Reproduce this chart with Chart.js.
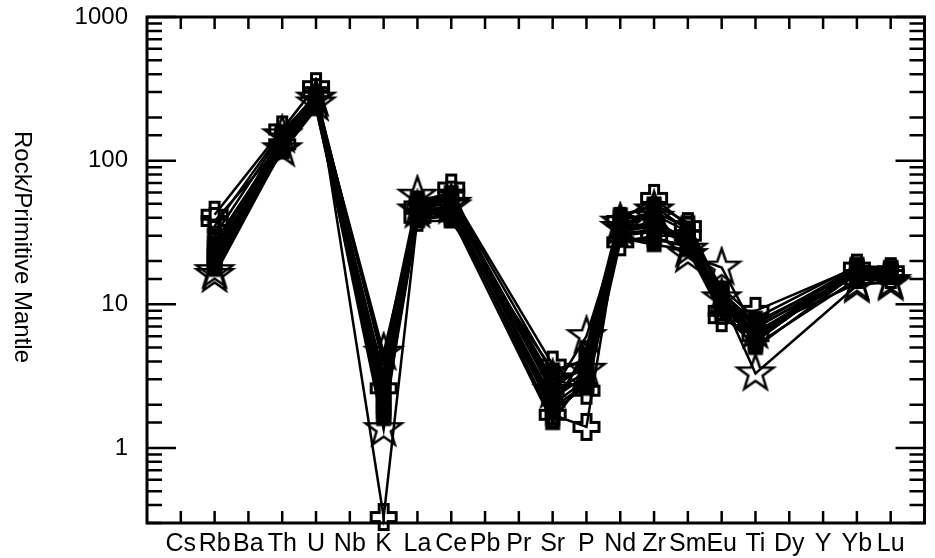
<!DOCTYPE html>
<html>
<head>
<meta charset="utf-8">
<script src="https://cdn.jsdelivr.net/npm/chart.js@4"></script>
<style>
  html, body { margin: 0; padding: 0; background: #fff; }
</style>
</head>
<body>
<canvas id="spider" width="935" height="558"></canvas>
<script>
// element order along the x axis
const elements = ["Cs", "Rb", "Ba", "Th", "U", "Nb", "K", "La", "Ce", "Pb", "Pr", "Sr", "P", "Nd", "Zr", "Sm", "Eu", "Ti", "Dy", "Y", "Yb", "Lu"];
// elements that were actually analysed (values below follow this order)
const analysed = ["Rb", "Th", "U", "K", "La", "Ce", "Sr", "P", "Nd", "Zr", "Sm", "Eu", "Ti", "Yb", "Lu"];

const starA   = [16, 120, 250, 1.35, 57, 50, 2.5, 6.0, 34, 45, 22, 18, 6.5, 14, 14];
const starB   = [17, 150, 270, 4.6, 45, 48, 3.0, 3.5, 37, 40, 24, 11, 3.3, 13.5, 14.5];
const crossA  = [42, 165, 330, 0.33, 40, 65, 1.7, 1.4, 38, 55, 35, 9, 9, 18, 17];
const crossB  = [38, 130, 300, 2.6, 48, 58, 3.8, 2.5, 27, 30, 30, 8, 6, 16, 16];
const squareA = [35, 160, 280, 4.2, 55, 55, 2.0, 4.5, 40, 50, 37, 12, 7.5, 17, 17];
const squareB = [25, 140, 260, 2.8, 42, 45, 1.6, 3.0, 35, 35, 30, 10, 5.5, 18, 18];
const squareC = [22, 115, 230, 2.1, 38, 38, 3.5, 4.0, 28, 28, 26, 9.5, 6, 19, 17];
const squareD = [19, 145, 270, 2.4, 50, 52, 2.6, 3.8, 36, 42, 32, 12.5, 6.8, 17.5, 17];
const squareE = [24, 150, 240, 3.2, 46, 40, 3.0, 2.6, 29, 26, 24, 8.5, 5.2, 15, 15.5];
const squareF = [30, 155, 290, 3.8, 52, 60, 1.8, 5.0, 42, 48, 33, 13, 8, 18.5, 18];
const squareG = [27, 138, 275, 2.5, 49, 53, 2.8, 3.6, 30, 32, 31, 11, 7, 16, 15.5];
const squareH = [17.5, 118, 235, 1.6, 39, 41, 1.5, 3.3, 28, 29, 25, 9.2, 5.0, 16.5, 16];
const solidA  = [20, 135, 255, 1.8, 44, 46, 2.2, 3.2, 32, 38, 28, 11, 6.2, 16, 16];
const solidB  = [18, 125, 245, 1.9, 40, 42, 1.9, 2.8, 31, 33, 27, 10, 5.8, 17, 16];
const solidC  = [21, 140, 265, 2.2, 47, 50, 2.4, 3.4, 33, 36, 29, 11.5, 6.4, 16.5, 16.5];
const solidD  = [23, 130, 260, 2.0, 43, 47, 2.0, 3.0, 34, 37, 28, 10.5, 6.0, 17, 16.5];
const solidE  = [19.5, 128, 250, 1.7, 41, 44, 1.8, 2.7, 32, 35, 27, 9.8, 5.6, 17.5, 17];
const solidF  = [21.5, 148, 285, 2.9, 51, 56, 3.3, 4.2, 38, 44, 34, 12, 7.2, 18, 17.5];

const yTickLabels = [1, 10, 100, 1000];

// little canvases used as point markers
function marker(kind) {
  const size = kind === "star" ? 44 : kind === "cross" ? 32 : 20;
  const c = document.createElement("canvas");
  c.width = size;
  c.height = size;
  const g = c.getContext("2d");
  g.translate(size / 2, size / 2);
  g.strokeStyle = "#000";
  g.fillStyle = "#000";
  g.lineJoin = "miter";
  g.beginPath();
  if (kind === "square" || kind === "solid") {
    g.lineWidth = 4.5;
    g.rect(-5.25, -5.25, 10.5, 10.5);
    if (kind === "solid") g.fill();
  } else if (kind === "cross") {
    g.lineWidth = 3;
    const a = 4.5, L = 12.5;
    const pts = [[-a, -L], [a, -L], [a, -a], [L, -a], [L, a], [a, a], [a, L], [-a, L], [-a, a], [-L, a], [-L, -a], [-a, -a]];
    pts.forEach(([px, py], i) => (i ? g.lineTo(px, py) : g.moveTo(px, py)));
    g.closePath();
  } else {
    g.lineWidth = 2.5;
    for (let i = 0; i < 10; i++) {
      const r = i % 2 ? 7.5 : 19;
      const ang = -Math.PI / 2 + (i * Math.PI) / 5;
      const px = r * Math.cos(ang), py = r * Math.sin(ang);
      i ? g.lineTo(px, py) : g.moveTo(px, py);
    }
    g.closePath();
  }
  g.stroke();
  return c;
}

const series = [
  [squareA, "square"], [squareB, "square"], [squareC, "square"], [squareD, "square"],
  [squareE, "square"], [squareF, "square"], [squareG, "square"], [squareH, "square"],
  [solidA, "solid"], [solidB, "solid"], [solidC, "solid"], [solidD, "solid"],
  [solidE, "solid"], [solidF, "solid"],
  [crossA, "cross"], [crossB, "cross"], [starA, "star"], [starB, "star"],
];

const datasets = series.map(([vals, kind]) => ({
  data: analysed.map((el, i) => ({ x: elements.indexOf(el), y: vals[i] })),
  borderColor: "#000",
  borderWidth: 2.5,
  pointStyle: marker(kind),
  pointRadius: 8,
  fill: false,
  tension: 0,
  clip: false,
}));

const isDecade = (v) => Math.abs(Math.log10(v) - Math.round(Math.log10(v))) < 1e-9;

// frame, inward ticks on all four sides and the rotated axis title
const frame = {
  id: "frame",
  afterDatasetsDraw(chart) {
    const { ctx, chartArea: a, scales: { x, y } } = chart;
    ctx.save();
    ctx.strokeStyle = "#000";
    ctx.lineWidth = 2.5;
    ctx.beginPath();
    elements.forEach((e, i) => {
      const px = x.getPixelForValue(i);
      ctx.moveTo(px, a.bottom);
      ctx.lineTo(px, a.bottom - 12);
      ctx.moveTo(px, a.top);
      ctx.lineTo(px, a.top + 12);
    });
    y.ticks.forEach((t) => {
      const py = y.getPixelForValue(t.value);
      const len = isDecade(t.value) ? 29 : 15;
      ctx.moveTo(a.left, py);
      ctx.lineTo(a.left + len, py);
      ctx.moveTo(a.right, py);
      ctx.lineTo(a.right - len, py);
    });
    ctx.stroke();
    ctx.lineWidth = 3;
    ctx.strokeRect(a.left, a.top, a.right - a.left, a.bottom - a.top);

    ctx.translate(22, 247);
    ctx.rotate(Math.PI / 2);
    ctx.font = '24px "Liberation Sans", Arial, sans-serif';
    ctx.textAlign = "center";
    ctx.textBaseline = "middle";
    ctx.fillStyle = "#000";
    ctx.fillText("Rock/Primitive Mantle", 0, 0);
    ctx.restore();
  },
};

new Chart(document.getElementById("spider"), {
  type: "line",
  data: { datasets },
  options: {
    responsive: false,
    animation: false,
    devicePixelRatio: 1,
    layout: { padding: { left: 0, right: 7, top: 17, bottom: 0 } },
    plugins: { legend: { display: false }, tooltip: { enabled: false } },
    scales: {
      x: {
        type: "linear",
        min: -1,
        max: 22,
        afterBuildTicks: (axis) => {
          axis.ticks = elements.map((e, i) => ({ value: i }));
        },
        afterFit: (axis) => {
          axis.height = 35;
          axis.paddingLeft = 0;
          axis.paddingRight = 0;
        },
        grid: { display: false, drawTicks: false },
        border: { display: false },
        ticks: {
          autoSkip: false,
          maxRotation: 0,
          padding: 6,
          color: "#000",
          font: { family: '"Liberation Sans", Arial, sans-serif', size: 25 },
          callback: (v) => elements[v] ?? "",
        },
      },
      y: {
        type: "logarithmic",
        min: 0.3,
        max: 1000,
        afterFit: (axis) => {
          axis.width = 147;
          axis.paddingTop = 0;
          axis.paddingBottom = 0;
        },
        grid: { display: false, drawTicks: false },
        border: { display: false },
        ticks: {
          autoSkip: false,
          padding: 19,
          color: "#000",
          font: { family: '"Liberation Sans", Arial, sans-serif', size: 24 },
          callback: (v) => (yTickLabels.includes(v) ? String(v) : ""),
        },
      },
    },
  },
  plugins: [frame],
});
</script>
</body>
</html>
